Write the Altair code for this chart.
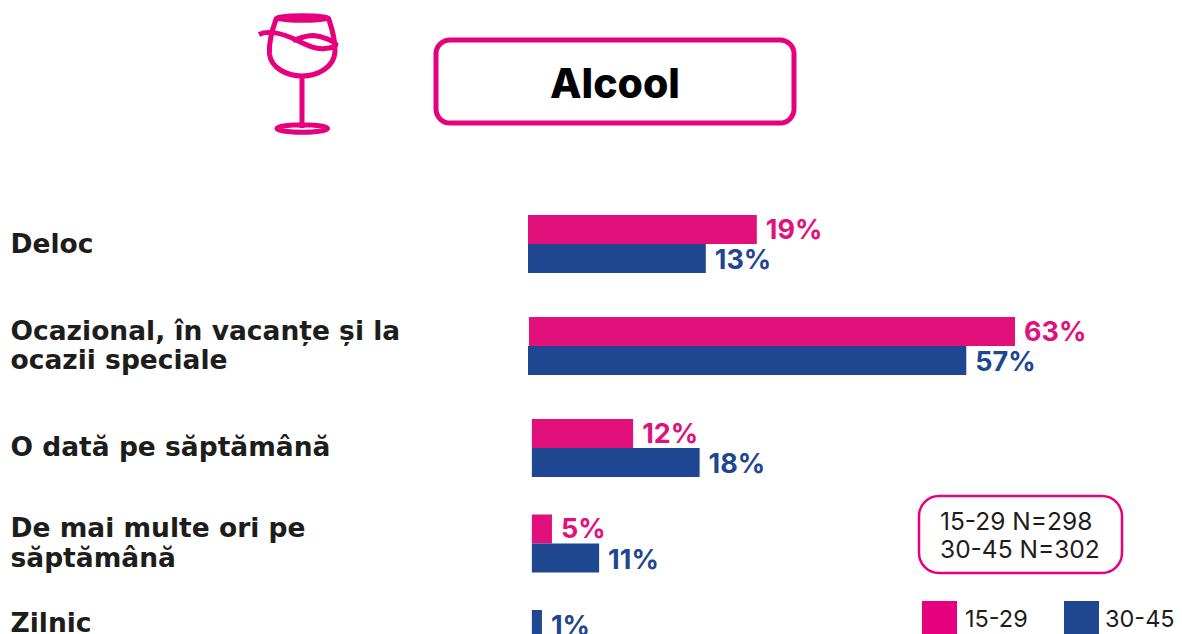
import altair as alt
import pandas as pd

# ---- values ----
categories = ["Deloc", "Ocazional, în vacanțe și la ocazii speciale", "O dată pe săptămână",
              "De mai multe ori pe săptămână", "Zilnic"]
label_lines = [["Deloc"], ["Ocazional, în vacanțe și la", "ocazii speciale"], ["O dată pe săptămână"],
               ["De mai multe ori pe", "săptămână"], ["Zilnic"]]
series_names = ["15-29", "30-45"]
labels_young = ["19%", "63%", "12%", "5%", None]
labels_older = ["13%", "57%", "18%", "11%", "1%"]
# drawn bar extents as they appear in the picture (the source's bars are not to one scale)
start_young = [0.0, 0.13, 0.5, 0.5, None]
end_young = [29.6, 63.0, 13.6, 3.1, None]
start_older = [0.0, 0.0, 0.5, 0.5, 0.5]
end_older = [23.0, 56.7, 22.2, 9.2, 1.8]

PINK = "#E2107A"
BLUE = "#1E4691"
LINE_PINK = "#E6007E"
INK = "#1D1D1B"
FONT = "Inter"

# layout of the rows: the boundary between the two bars of each row, in page pixels
row_split = [244, 346, 448, 543.5, 610]
BAR_H = 29
line_y = [[244.5], [331.5, 360.5], [448], [528.5, 558.5], [624]]

rows = []
for i, cat in enumerate(categories):
    if labels_young[i]:
        rows.append(dict(cat=cat, series=series_names[0], start=start_young[i], end=end_young[i],
                         label=labels_young[i], y=row_split[i] - BAR_H, y2=row_split[i],
                         ly=row_split[i] - BAR_H / 2 - 8 + 0))
    rows.append(dict(cat=cat, series=series_names[1], start=start_older[i], end=end_older[i],
                     label=labels_older[i], y=row_split[i], y2=row_split[i] + BAR_H,
                     ly=row_split[i] + BAR_H / 2 - 8 + 1.5))
df = pd.DataFrame(rows)
df["y"] = df["y"] - 8
df["y2"] = df["y2"] - 8

W, H = 1166, 626
px_per_unit = 7.73
x_scale = alt.Scale(domain=[-520 / px_per_unit, (W - 520) / px_per_unit], range=[0, W], nice=False, zero=False)
y_scale = alt.Scale(domain=[0, H], range=[0, H], nice=False, zero=False)
color = alt.Color("series:N", scale=alt.Scale(domain=series_names, range=[PINK, BLUE]), legend=None)

bars = alt.Chart(df).mark_bar(cornerRadius=0).encode(
    x=alt.X("start:Q", scale=x_scale, axis=None), x2="end:Q",
    y=alt.Y("y:Q", scale=y_scale, axis=None), y2="y2:Q", color=color)

values = alt.Chart(df).mark_text(align="left", baseline="middle", font=FONT, fontWeight=700,
                                 fontSize=27, dx=9, dy=1).encode(
    x=alt.X("end:Q", scale=x_scale, axis=None),
    y=alt.Y("ly:Q", scale=y_scale, axis=None),
    text="label:N", color=color)

cat_rows = [dict(line=t, ly=y - 8) for ls, ys in zip(label_lines, line_y) for t, y in zip(ls, ys)]
cats = alt.Chart(pd.DataFrame(cat_rows)).mark_text(align="left", baseline="middle", font="DejaVu Sans", fontWeight=700,
                                                   fontSize=26.5, color=INK).encode(
    x=alt.value(2.5), y=alt.Y("ly:Q", scale=y_scale, axis=None), text="line:N")

one = pd.DataFrame({"a": [0]})

def box(x0, x1, y0, y1, radius, sw):
    return alt.Chart(one).mark_rect(cornerRadius=radius, fill="white", stroke=LINE_PINK, strokeWidth=sw).encode(
        x=alt.value(x0 - 8), x2=alt.value(x1 - 8), y=alt.value(y0 - 8), y2=alt.value(y1 - 8))

def text(t, x, y, size, weight=400, col=INK, align="left"):
    return alt.Chart(one).mark_text(text=t, align=align, baseline="middle", font=FONT, fontSize=size,
                                    fontWeight=weight, color=col).encode(x=alt.value(x - 8), y=alt.value(y - 8))

def square(x0, x1, y0, y1, col):
    return alt.Chart(one).mark_rect(color=col).encode(
        x=alt.value(x0 - 8), x2=alt.value(x1 - 8), y=alt.value(y0 - 8), y2=alt.value(y1 - 8))

glass = ("M276.5 18 C276.5 15 328.5 15 328.5 18 C328.5 21 276.5 21 276.5 18 Z "
         "M276.5 18 C272 30 268.5 42 269.5 54 C271 68 287 76 302 76 C318 76 334 67 335 52 C335.5 40 332 29 328.5 18 "
         "M302 76 L302 128 "
         "M277 128.5 C277 123.5 327.5 123.5 327.5 128.5 C327.5 133.5 277 133.5 277 128.5 Z "
         "M259 34.5 C268 30 280 33 292 38 C303 43 314 50 325 48.5 C331 48 336 46.5 336 44.5 "
         "C334 41 322 36 313 35.5 C305 35.5 298 39 293 40.5")
icon = alt.Chart(one).mark_point(shape=glass, size=4, filled=False, stroke=LINE_PINK, strokeWidth=5,
                                 opacity=1).encode(x=alt.value(-8), y=alt.value(-8))

chart = alt.layer(
    icon,
    box(436, 794, 40, 123, 14, 5),
    text("Alcool", 615, 85.5, 41, 800, "#000000", "center"),
    bars, values, cats,
    box(919, 1122, 496, 573, 20, 2.5),
    text("15-29 N=298", 940, 522.5, 24.5),
    text("30-45 N=302", 940, 550.5, 24.5),
    square(922, 957, 601, 634, LINE_PINK),
    text("15-29", 965, 620, 23.5),
    square(1064, 1099, 601, 634, BLUE),
    text("30-45", 1105, 620, 23.5),
).properties(width=W, height=H, padding=0, autosize="none", background="white"
).configure_view(stroke=None)

chart.save("out.html", embed_options={"renderer": "svg", "actions": False})
